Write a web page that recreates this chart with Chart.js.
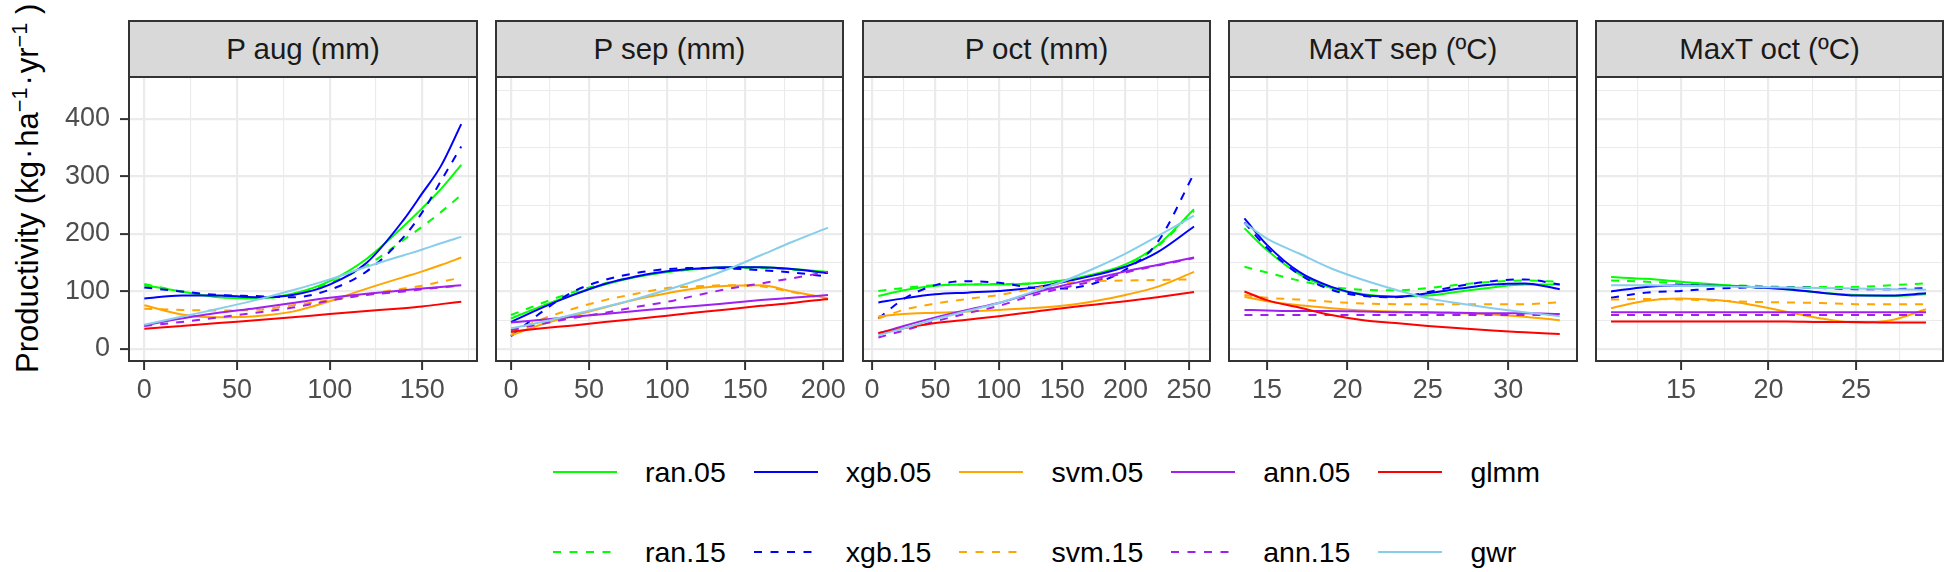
<!DOCTYPE html>
<html lang="en">
<head>
<meta charset="UTF-8">
<title>Productivity response curves</title>
<script src="https://cdn.jsdelivr.net/npm/chart.js"></script>
<style>
    body {
        margin: 0;
        width: 1946px;
        height: 572px;
        position: relative;
        overflow: hidden;
        background: #fff;
        font-family: 'Liberation Sans', Arial, sans-serif;
    }
    canvas { position: absolute; }
    .strip {
        position: absolute;
        top: 20px;
        height: 58px;
        box-sizing: border-box;
        background: #d9d9d9;
        border: 2px solid #333;
        color: #1a1a1a;
        font-size: 29.5px;
        display: flex;
        align-items: center;
        justify-content: center;
        white-space: nowrap;
    }
    #ytitle {
        position: absolute;
        left: 8px;
        top: 373px;
        transform-origin: 0 0;
        transform: rotate(-90deg);
        white-space: nowrap;
        font-size: 31px;
        line-height: 40px;
        color: #000;
    }
    #ytitle sup {
        font-size: 0.7em;
        vertical-align: 0.5em;
        line-height: 0;
    }
    #ytitle .dot { margin: 0 2px; }
    #legend {
        position: absolute;
        left: 553px;
        top: 432px;
        display: grid;
        grid-auto-flow: column;
        grid-template-rows: 80px 80px;
        font-size: 28.5px;
        color: #000;
    }
    .key { display: flex; align-items: center; }
    .key svg { width: 64px; height: 10px; }
    .key span { margin-left: 28px; margin-right: 28px; }
</style>
</head>
<body>
<div id="ytitle">Productivity (kg<span class="dot">·</span>ha<sup>−1</sup><span class="dot">·</span>yr<sup>−1</sup> )</div>
<div id="legend"></div>

<script>
    // series (legend order is column-wise: ran.05 / ran.15, xgb.05 / xgb.15 ...)
    const seriesNames = ['ran.05', 'ran.15', 'xgb.05', 'xgb.15', 'svm.05', 'svm.15', 'ann.05', 'ann.15', 'glmm', 'gwr'];
    const seriesColors = ['#00ff00', '#00ff00', '#0000ff', '#0000ff', '#ffa500', '#ffa500', '#a020f0', '#a020f0', '#ff0000', '#87ceeb'];
    const seriesDashed = [false, true, false, true, false, true, false, true, false, false];

    const panelTitles = ['P aug (mm)', 'P sep (mm)', 'P oct (mm)', 'MaxT sep (ºC)', 'MaxT oct (ºC)'];

    // y axis (shared)
    const yTicks = [0, 50, 100, 150, 200, 250, 300, 350, 400, 450];
    const yLabels = [0, 100, 200, 300, 400];

    // P aug
    const augX = [0, 20, 40, 60, 80, 100, 120, 140, 150, 160, 171];
    const augRan05 = [111, 100, 90, 88, 96, 118, 157, 214, 245, 278, 320];
    const augRan15 = [113, 100, 92, 88, 95, 115, 145, 190, 213, 238, 268];
    const augXgb05 = [88, 93, 93, 90, 94, 112, 150, 225, 271, 318, 391];
    const augXgb15 = [107, 100, 94, 92, 90, 103, 135, 195, 238, 292, 352];
    const augSvm05 = [76, 60, 55, 57, 65, 83, 105, 125, 135, 146, 159];
    const augSvm15 = [70, 68, 67, 68, 76, 85, 95, 105, 110, 117, 124];
    const augAnn05 = [41, 53, 63, 71, 80, 89, 96, 102, 105, 108, 111];
    const augAnn15 = [40, 47, 55, 63, 72, 84, 94, 100, 104, 107, 110];
    const augGlmm = [35, 40, 45, 50, 55, 61, 66, 71, 74, 78, 82];
    const augGwr = [42, 56, 70, 85, 102, 121, 143, 163, 173, 184, 195];
    const augTicks = [0, 25, 50, 75, 100, 125, 150, 175];
    const augLabels = [0, 50, 100, 150];

    // P sep
    const sepX = [0, 20, 40, 60, 80, 100, 120, 140, 160, 180, 203];
    const sepRan05 = [53, 75, 95, 112, 125, 134, 139, 142, 142, 139, 134];
    const sepRan15 = [59, 80, 99, 114, 126, 134, 139, 141, 141, 138, 133];
    const sepXgb05 = [47, 72, 94, 113, 126, 135, 140, 142, 142, 139, 132];
    const sepXgb15 = [22, 65, 100, 120, 132, 139, 141, 140, 137, 133, 126];
    const sepSvm05 = [24, 43, 58, 72, 86, 97, 106, 110, 111, 100, 88];
    const sepSvm15 = [28, 52, 70, 85, 96, 106, 109, 111, 109, 99, 86];
    const sepAnn05 = [46, 51, 56, 61, 66, 71, 75, 80, 85, 89, 94];
    const sepAnn15 = [33, 44, 54, 63, 73, 82, 94, 105, 114, 123, 134];
    const sepGlmm = [30, 36, 41, 47, 52, 58, 64, 69, 75, 80, 87];
    const sepGwr = [36, 47, 60, 73, 87, 103, 120, 140, 163, 186, 211];
    const sepTicks = [0, 25, 50, 75, 100, 125, 150, 175, 200];
    const sepLabels = [0, 50, 100, 150, 200];

    // P oct
    const octX = [5, 25, 50, 75, 100, 125, 150, 175, 200, 225, 254];
    const octRan05 = [92, 102, 110, 112, 112, 114, 119, 130, 147, 180, 243];
    const octRan15 = [101, 106, 111, 112, 113, 114, 118, 129, 146, 178, 240];
    const octXgb05 = [81, 88, 95, 98, 101, 106, 116, 128, 143, 168, 213];
    const octXgb15 = [53, 87, 111, 118, 115, 107, 105, 114, 138, 185, 305];
    const octSvm05 = [57, 61, 63, 65, 68, 71, 75, 83, 94, 108, 134];
    const octSvm15 = [53, 68, 79, 87, 94, 104, 114, 118, 119, 120, 121];
    const octAnn05 = [27, 40, 55, 68, 80, 96, 110, 122, 135, 146, 159];
    const octAnn15 = [20, 32, 48, 62, 75, 92, 106, 118, 133, 145, 158];
    const octGlmm = [28, 36, 45, 51, 57, 64, 71, 77, 83, 90, 99];
    const octGwr = [24, 36, 52, 66, 80, 98, 117, 140, 166, 196, 232];
    const octTicks = [0, 25, 50, 75, 100, 125, 150, 175, 200, 225, 250];
    const octLabels = [0, 50, 100, 150, 200, 250];

    // MaxT sep
    const tsepX = [13.6, 15, 17, 19, 21, 23, 25, 27, 29, 31, 33.2];
    const tsepRan05 = [210, 172, 130, 106, 95, 91, 93, 100, 107, 112, 112];
    const tsepRan15 = [143, 133, 119, 108, 103, 102, 106, 112, 117, 119, 117];
    const tsepXgb05 = [227, 181, 134, 108, 94, 91, 97, 105, 112, 114, 104];
    const tsepXgb15 = [220, 176, 130, 103, 92, 90, 99, 110, 118, 121, 112];
    const tsepSvm05 = [91, 83, 76, 71, 67, 65, 63, 62, 60, 56, 50];
    const tsepSvm15 = [94, 89, 86, 82, 79, 78, 78, 78, 78, 78, 81];
    const tsepAnn05 = [68, 67, 66, 66, 65, 64, 64, 63, 62, 62, 61];
    const tsepAnn15 = [59, 59, 59, 59, 59, 59, 59, 59, 59, 59, 59];
    const tsepGlmm = [100, 85, 72, 59, 50, 45, 40, 36, 32, 29, 26];
    const tsepGwr = [219, 192, 166, 140, 120, 103, 88, 79, 71, 64, 57];
    const tsepTicks = [15, 17.5, 20, 22.5, 25, 27.5, 30, 32.5];
    const tsepLabels = [15, 20, 25, 30];

    // MaxT oct
    const toctX = [11, 13, 15, 17, 19, 21, 23, 25, 27, 29];
    const toctRan05 = [125, 122, 117, 112, 108, 104, 98, 94, 92, 95];
    const toctRan15 = [119, 117, 114, 111, 110, 108, 108, 108, 111, 114];
    const toctXgb05 = [100, 108, 111, 110, 108, 104, 98, 93, 93, 97];
    const toctXgb15 = [89, 98, 101, 105, 107, 107, 106, 104, 104, 106];
    const toctSvm05 = [71, 84, 88, 85, 77, 65, 53, 46, 50, 69];
    const toctSvm15 = [86, 87, 86, 84, 82, 81, 80, 78, 78, 78];
    const toctAnn05 = [64, 64, 64, 64, 64, 64, 64, 64, 64, 64];
    const toctAnn15 = [59, 59, 59, 59, 59, 59, 59, 59, 59, 59];
    const toctGlmm = [48, 48, 48, 48, 48, 48, 47, 47, 46, 46];
    const toctGwr = [111, 111, 110, 109, 108, 107, 106, 105, 104, 103];
    const toctTicks = [12.5, 15, 17.5, 20, 22.5, 25, 27.5];
    const toctLabels = [15, 20, 25];

    // axis limits (ggplot expanded ranges)
    const yRange = [-20.9, 473];
    const xRanges = [[-8.26, 179.5], [-9.6, 212.6], [-7.1, 266.6], [12.64, 34.27], [10.14, 29.97]];

    const panels = [
        { x: augX, ys: [augRan05, augRan15, augXgb05, augXgb15, augSvm05, augSvm15, augAnn05, augAnn15, augGlmm, augGwr], ticks: augTicks, labels: augLabels },
        { x: sepX, ys: [sepRan05, sepRan15, sepXgb05, sepXgb15, sepSvm05, sepSvm15, sepAnn05, sepAnn15, sepGlmm, sepGwr], ticks: sepTicks, labels: sepLabels },
        { x: octX, ys: [octRan05, octRan15, octXgb05, octXgb15, octSvm05, octSvm15, octAnn05, octAnn15, octGlmm, octGwr], ticks: octTicks, labels: octLabels },
        { x: tsepX, ys: [tsepRan05, tsepRan15, tsepXgb05, tsepXgb15, tsepSvm05, tsepSvm15, tsepAnn05, tsepAnn15, tsepGlmm, tsepGwr], ticks: tsepTicks, labels: tsepLabels },
        { x: toctX, ys: [toctRan05, toctRan15, toctXgb05, toctXgb15, toctSvm05, toctSvm15, toctAnn05, toctAnn15, toctGlmm, toctGwr], ticks: toctTicks, labels: toctLabels }
    ];

    // layout: panel boxes in page pixels
    const panelLeft = [129, 496, 863, 1229, 1596];
    const panelRight = [477, 843, 1210, 1577, 1943];
    const panelTop = 77, panelBottom = 361;
    const FONT = "'Liberation Sans', Arial, sans-serif";

    // panel border drawn on top of the lines, like ggplot's panel.border
    const panelBorder = {
        id: 'panelBorder',
        afterDraw(chart) {
            const a = chart.chartArea, c = chart.ctx;
            c.save();
            c.strokeStyle = '#333';
            c.lineWidth = 2;
            c.strokeRect(a.left, a.top, a.right - a.left, a.bottom - a.top);
            c.restore();
        }
    };

    panels.forEach((p, i) => {
        const first = i === 0;
        const yAxisW = first ? 69 : 0;
        const padL = first ? 0 : 20;
        const padR = i === 4 ? 1946 - panelRight[i] : 20;
        const canvasLeft = panelLeft[i] - yAxisW - padL;
        const canvasTop = panelTop - 7;
        const xAxisH = 60;

        // strip
        const strip = document.createElement('div');
        strip.className = 'strip';
        strip.style.left = (panelLeft[i] - 1) + 'px';
        strip.style.width = (panelRight[i] - panelLeft[i] + 2) + 'px';
        strip.textContent = panelTitles[i];
        document.body.appendChild(strip);

        const canvas = document.createElement('canvas');
        canvas.width = panelRight[i] + padR - canvasLeft;
        canvas.height = panelBottom + xAxisH - canvasTop;
        canvas.style.left = canvasLeft + 'px';
        canvas.style.top = canvasTop + 'px';
        document.body.appendChild(canvas);

        const n = seriesNames.length;
        new Chart(canvas.getContext('2d'), {
            type: 'line',
            data: {
                datasets: seriesNames.map((name, s) => ({
                    label: name,
                    data: p.x.map((x, k) => ({ x: x, y: p.ys[s][k] })),
                    borderColor: seriesColors[s],
                    borderWidth: 2,
                    borderDash: seriesDashed[s] ? [8, 8] : [],
                    pointRadius: 0,
                    fill: false,
                    cubicInterpolationMode: 'monotone',
                    order: n - s
                }))
            },
            options: {
                responsive: false,
                animation: false,
                events: [],
                layout: { padding: { left: padL, right: padR, top: 7, bottom: 0 } },
                plugins: { legend: { display: false }, tooltip: { enabled: false } },
                scales: {
                    x: {
                        type: 'linear',
                        min: xRanges[i][0],
                        max: xRanges[i][1],
                        afterBuildTicks: sc => { sc.ticks = p.ticks.map(v => ({ value: v })); },
                        afterFit: sc => { sc.height = xAxisH; sc.paddingLeft = 0; sc.paddingRight = 0; },
                        border: { display: false },
                        grid: {
                            color: '#ebebeb',
                            lineWidth: ctx => p.labels.includes(ctx.tick.value) ? 2.2 : 1.1,
                            tickLength: 9,
                            tickWidth: 2,
                            tickColor: ctx => p.labels.includes(ctx.tick.value) ? '#333' : 'rgba(0,0,0,0)'
                        },
                        ticks: {
                            autoSkip: false,
                            maxRotation: 0,
                            padding: 4,
                            color: '#4d4d4d',
                            font: { size: 27, family: FONT },
                            callback: v => p.labels.includes(v) ? String(v) : ''
                        }
                    },
                    y: {
                        type: 'linear',
                        min: yRange[0],
                        max: yRange[1],
                        afterBuildTicks: sc => { sc.ticks = yTicks.map(v => ({ value: v })); },
                        afterFit: sc => { sc.width = yAxisW; sc.paddingTop = 0; sc.paddingBottom = 0; },
                        border: { display: false },
                        grid: {
                            color: '#ebebeb',
                            lineWidth: ctx => yLabels.includes(ctx.tick.value) ? 2.2 : 1.1,
                            drawTicks: first,
                            tickLength: 9,
                            tickWidth: 2,
                            tickColor: ctx => yLabels.includes(ctx.tick.value) ? '#333' : 'rgba(0,0,0,0)'
                        },
                        ticks: {
                            display: first,
                            padding: 10,
                            color: '#4d4d4d',
                            font: { size: 27, family: FONT },
                            callback: v => yLabels.includes(v) ? String(v) : ''
                        }
                    }
                }
            },
            plugins: [panelBorder]
        });
    });

    // legend, filled column by column like the ggplot guide
    const legend = document.getElementById('legend');
    seriesNames.forEach((name, s) => {
        const item = document.createElement('div');
        item.className = 'key';
        const dash = seriesDashed[s] ? ' stroke-dasharray="8 8.5"' : '';
        item.innerHTML = '<svg viewBox="0 0 64 10"><line x1="0" y1="5" x2="64" y2="5" stroke="' +
            seriesColors[s] + '" stroke-width="2"' + dash + '/></svg><span>' + name + '</span>';
        legend.appendChild(item);
    });
</script>
</body>
</html>
